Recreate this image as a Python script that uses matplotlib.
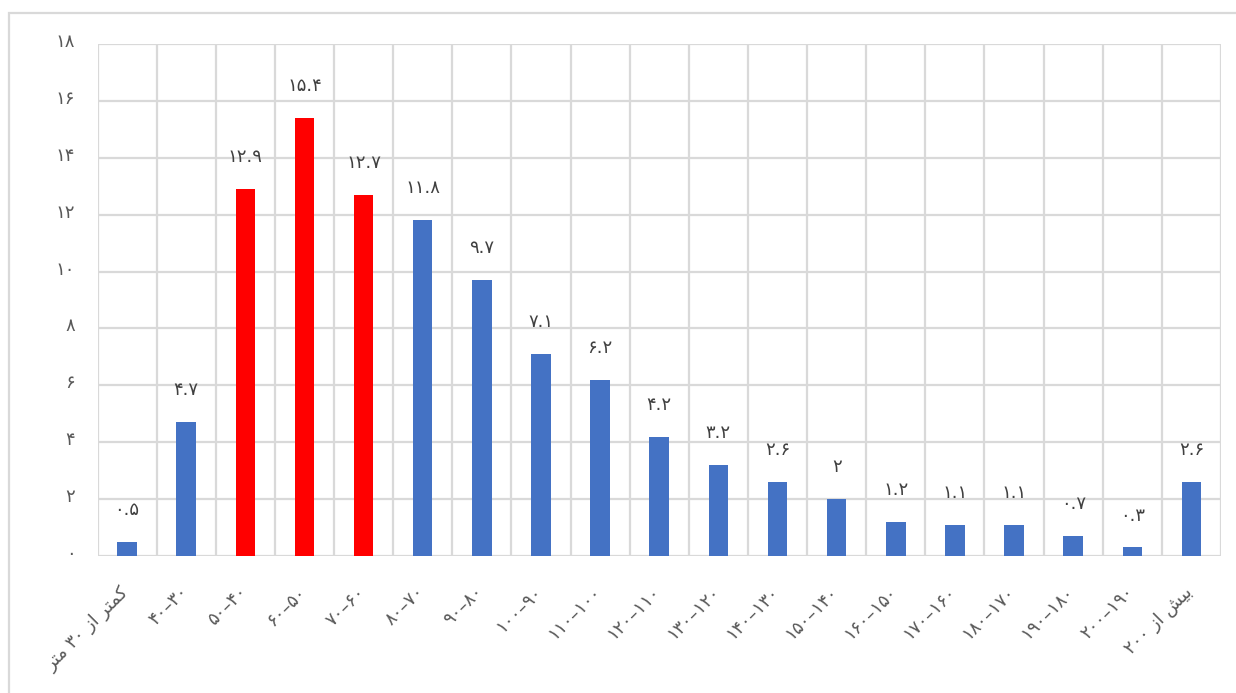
import matplotlib.pyplot as plt
from matplotlib.patches import Rectangle
from matplotlib.transforms import ScaledTranslation

# Persian text is written in visual (left-to-right) order with presentation forms,
# because matplotlib does no bidi reordering or Arabic shaping.
categories = [
    "\uFEAE\uFE98\uFEE3 ۳۰ \uFEAF\uFE8D \uFEAE\uFE98\uFEE4\uFB90",
    "۴۰–۳۰", "۵۰–۴۰", "۶۰–۵۰", "۷۰–۶۰", "۸۰–۷۰", "۹۰–۸۰", "۱۰۰–۹۰",
    "۱۱۰–۱۰۰", "۱۲۰–۱۱۰", "۱۳۰–۱۲۰", "۱۴۰–۱۳۰", "۱۵۰–۱۴۰", "۱۶۰–۱۵۰",
    "۱۷۰–۱۶۰", "۱۸۰–۱۷۰", "۱۹۰–۱۸۰", "۲۰۰–۱۹۰",
    "۲۰۰ \uFEAF\uFE8D \uFEB6\uFEF4\uFE91",
]
values = [0.5, 4.7, 12.9, 15.4, 12.7, 11.8, 9.7, 7.1, 6.2, 4.2, 3.2, 2.6, 2, 1.2, 1.1, 1.1, 0.7, 0.3, 2.6]
highlight = [2, 3, 4]
yticks = [0, 2, 4, 6, 8, 10, 12, 14, 16, 18]

fa_digits = str.maketrans("0123456789", "۰۱۲۳۴۵۶۷۸۹")

def fa(v):
    s = ("%g" % v)
    return s.translate(fa_digits)

plt.rcParams['font.family'] = ['DejaVu Sans']

fig = plt.figure(figsize=(12.36, 6.93), dpi=100)
W, H = 1236, 693
ax = fig.add_axes([97.5 / W, 1 - 556 / H, (1221 - 97.5) / W, (556 - 44) / H])

colors = ['#FF0000' if i in highlight else '#4472C4' for i in range(len(values))]
x = list(range(len(values)))
bars = ax.bar(x, values, width=0.33, color=colors, zorder=3)

for xi, v in zip(x, values):
    ax.annotate(fa(v), (xi, v), xytext=(0, 23), textcoords='offset points',
                ha='center', va='center', fontsize=13, color='#404040')

ax.set_xlim(-0.5, len(values) - 0.5)
ax.set_ylim(0, 18)
ax.set_yticks(yticks)
ax.set_yticklabels([fa(t) for t in yticks], fontsize=13, color='#595959')
ax.tick_params(axis='y', length=0, pad=16)
for lab in ax.get_yticklabels():
    lab.set_transform(lab.get_transform() + ScaledTranslation(0, 0.04, fig.dpi_scale_trans))
ax.set_xticks(x)
ax.set_xticklabels([])
ax.tick_params(axis='x', length=0)

# vertical grid at category boundaries
for b in range(len(values) + 1):
    ax.axvline(b - 0.5, color='#D9D9D9', lw=1.6, zorder=1)
ax.yaxis.grid(True, color='#D9D9D9', lw=1.6, zorder=1)
ax.set_axisbelow(True)
for s in ax.spines.values():
    s.set_visible(False)

for xi, lab in zip(x, categories):
    ax.annotate(lab, (xi, 0), xytext=(-1, -24), textcoords='offset points',
                rotation=45, rotation_mode='anchor', ha='right', va='center',
                fontsize=13, color='#595959')

# outer chart border
fig.patches.append(Rectangle((9 / W, -0.05), 1.2, 1 - 13 / H + 0.05, transform=fig.transFigure,
                             fill=False, edgecolor='#D9D9D9', lw=1.6))

fig.savefig('out.png', dpi=100)
